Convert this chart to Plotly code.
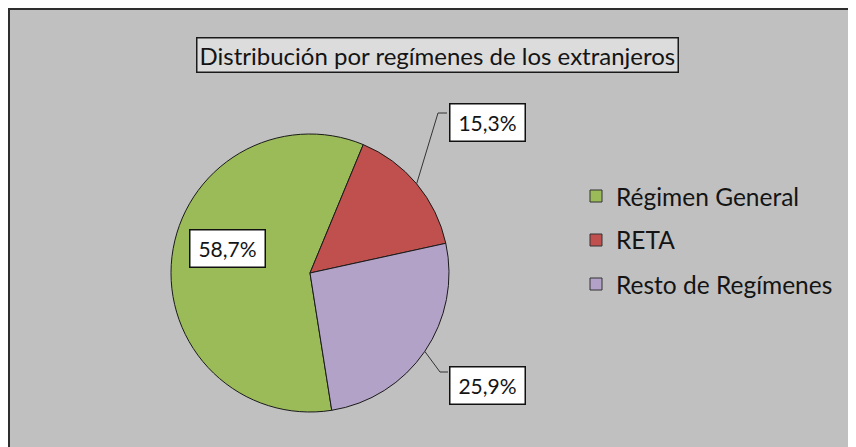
import math
import plotly.graph_objects as go

# ---- data ----
labels = ["Régimen General", "RETA", "Resto de Regímenes"]
values = [58.7, 15.3, 25.9]
value_text = ["58,7%", "15,3%", "25,9%"]
colors = ["#9BBB59", "#C0504D", "#B3A2C7"]
title_text = "Distribución por regímenes de los extranjeros"

# ---- layout helpers (screen pixel -> paper); page body has an 8px margin ----
W, H = 856, 447
OFF = 8
FONT = "Lato"
TXT = "#141414"
BG = "#c0c0c0"


def px(x):
    return (x - OFF) / W


def py(y):
    return 1 - (y - OFF) / H


CX, CY, R = 310, 273, 139
ROT = 171  # start angle of first slice, clockwise from 12 o'clock

fig = go.Figure(
    go.Pie(
        labels=labels,
        values=values,
        sort=False,
        direction="clockwise",
        rotation=ROT,
        marker=dict(colors=colors, line=dict(color="#1a1a1a", width=1)),
        textinfo="none",
        hoverinfo="label+percent",
        showlegend=False,
        domain=dict(x=[px(CX - R), px(CX + R)], y=[py(CY + R), py(CY - R)]),
    )
)

shapes = []
annotations = []

# frame border (left/top edges visible)
shapes.append(dict(type="rect", xref="paper", yref="paper",
                   x0=1 / W, x1=1 + 10 / W, y0=-10 / H, y1=1 - 1 / H,
                   fillcolor=BG, line=dict(color="#2e2e2e", width=2), layer="below"))

# title box
annotations.append(dict(text=title_text, x=px(437.5), y=py(55), xref="paper", yref="paper",
                        showarrow=False, xanchor="center", yanchor="middle",
                        font=dict(family=FONT, size=24, color=TXT),
                        bgcolor="#dcdcdc", bordercolor="#1a1a1a", borderwidth=1.5, borderpad=2))

# mid angles from data
total = sum(values)
mids = []
acc = ROT
for v in values:
    span = v / total * 360
    mids.append(acc + span / 2)
    acc += span

# label box centers (layout) and elbow points
box_centers = [(228, 248), (487, 122), (488, 385)]
elbows = [None, (438, 113), (440, 372)]
for i, (t, (bx, by)) in enumerate(zip(value_text, box_centers)):
    annotations.append(dict(text=t, x=px(bx), y=py(by), xref="paper", yref="paper",
                            showarrow=False, xanchor="center", yanchor="middle",
                            width=66, height=28,
                            font=dict(family=FONT, size=21, color=TXT),
                            bgcolor="white", bordercolor="#111", borderwidth=1.5, borderpad=4))
    if elbows[i] is not None:
        a = math.radians(mids[i])
        sx = CX + R * math.sin(a)
        sy = CY - R * math.cos(a)
        ex, ey = elbows[i]
        left = bx - 40
        path = f"M {px(sx)},{py(sy)} L {px(ex)},{py(ey)} L {px(left)},{py(ey)}"
        shapes.append(dict(type="path", xref="paper", yref="paper", path=path,
                           line=dict(color="#333", width=1), layer="above"))

# manual legend
leg_y = [196, 240, 284]
for lab, col, ly in zip(labels, colors, leg_y):
    shapes.append(dict(type="rect", xref="paper", yref="paper",
                       x0=px(590), x1=px(602), y0=py(ly + 6), y1=py(ly - 6),
                       fillcolor=col, line=dict(color="#333", width=1)))
    annotations.append(dict(text=lab, x=px(614), y=py(ly), xref="paper", yref="paper",
                            showarrow=False, xanchor="left", yanchor="middle",
                            font=dict(family=FONT, size=24.5, color=TXT)))

fig.update_layout(
    width=W, height=H,
    margin=dict(l=0, r=0, t=0, b=0),
    paper_bgcolor=BG,
    plot_bgcolor=BG,
    shapes=shapes,
    annotations=annotations,
    showlegend=False,
)

fig.write_html("out.html")
